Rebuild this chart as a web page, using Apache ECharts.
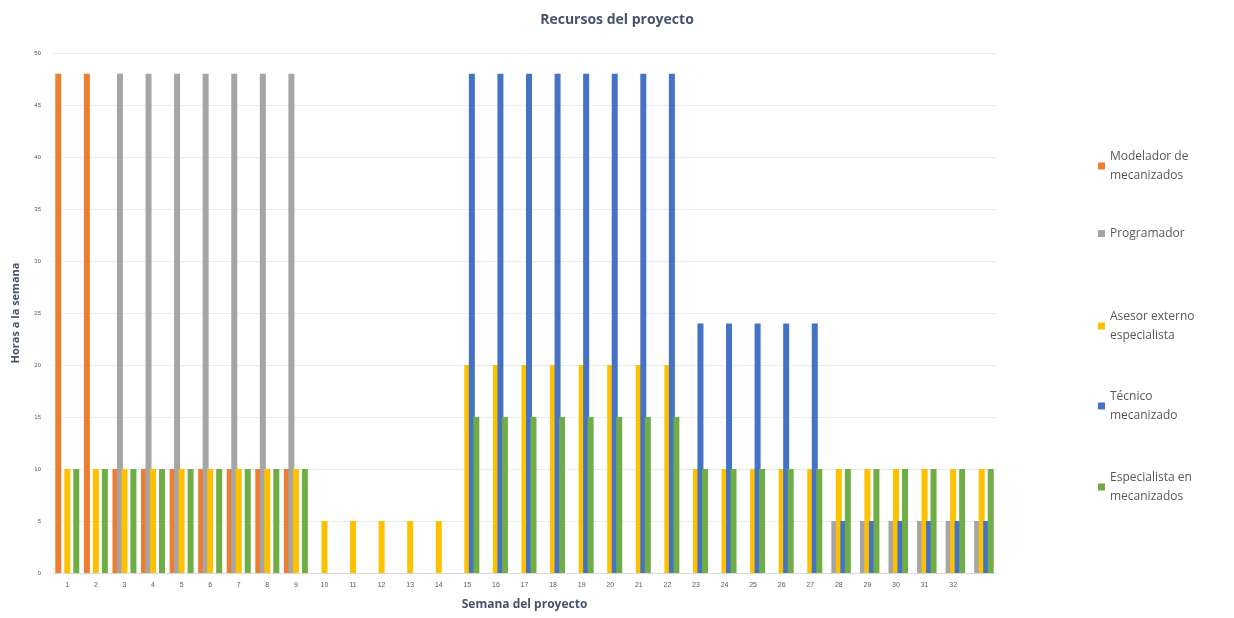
<!DOCTYPE html>
<html><head><meta charset="utf-8">
<script src="https://cdn.jsdelivr.net/npm/echarts@6/dist/echarts.min.js"></script>
<style>html,body{margin:0;padding:0;background:#fff}#c{width:1234px;height:618px}</style>
</head><body><div id="c"></div>
<script>
const weeks = ['1','2','3','4','5','6','7','8','9','10','11','12','13','14','15','16','17','18','19','20','21','22','23','24','25','26','27','28','29','30','31','32',''];
const modelador =    [48,48,10,10,10,10,10,10,10, 0, 0, 0, 0, 0, 0, 0, 0, 0, 0, 0, 0, 0, 0, 0, 0, 0, 0, 0, 0, 0, 0, 0, 0];
const programador =  [ 0, 0,48,48,48,48,48,48,48, 0, 0, 0, 0, 0, 0, 0, 0, 0, 0, 0, 0, 0, 0, 0, 0, 0, 0, 5, 5, 5, 5, 5, 5];
const asesor =       [10,10,10,10,10,10,10,10,10, 5, 5, 5, 5, 5,20,20,20,20,20,20,20,20,10,10,10,10,10,10,10,10,10,10,10];
const tecnico =      [ 0, 0, 0, 0, 0, 0, 0, 0, 0, 0, 0, 0, 0, 0,48,48,48,48,48,48,48,48,24,24,24,24,24, 5, 5, 5, 5, 5, 5];
const especialista = [10,10,10,10,10,10,10,10,10, 0, 0, 0, 0, 0,15,15,15,15,15,15,15,15,10,10,10,10,10,10,10,10,10,10,10];
const seriesNames = ['Modelador de mecanizados','Programador','Asesor externo especialista','Técnico mecanizado','Especialista en mecanizados'];
const legendLabels = ['Modelador de\nmecanizados','Programador','Asesor externo\nespecialista','Técnico\nmecanizado','Especialista en\nmecanizados'];
const colors = ['#ED7D31','#A5A5A5','#FFC000','#4472C4','#70AD47'];
const values = [modelador, programador, asesor, tecnico, especialista];
const legendTops = [142, 219, 302, 382, 463];

const chart = echarts.init(document.getElementById('c'));
chart.setOption({
  animation: false,
  color: colors,
  title: {text: 'Recursos del proyecto', left: 'center', top: 8,
    textStyle: {fontFamily: 'Open Sans', fontSize: 14, fontWeight: 'bold', color: '#44546A'}},
  legend: seriesNames.map((n, i) => ({
    data: [n], orient: 'vertical', left: 1093, top: legendTops[i],
    itemWidth: 7, itemHeight: 7, icon: 'rect', itemGap: 4,
    formatter: () => legendLabels[i],
    textStyle: {fontFamily: 'Open Sans', fontSize: 12, color: '#595959', lineHeight: 19}
  })),
  grid: {left: 53, right: 238, top: 53, bottom: 45},
  xAxis: {
    type: 'category', data: weeks,
    name: 'Semana del proyecto', nameLocation: 'middle', nameGap: 26,
    nameTextStyle: {fontFamily: 'Open Sans', fontSize: 12, fontWeight: 'bold', color: '#44546A'},
    axisLine: {lineStyle: {color: '#D9D9D9'}}, axisTick: {show: false},
    axisLabel: {fontSize: 7, color: '#595959', margin: 9, interval: 0}
  },
  yAxis: {
    type: 'value', min: 0, max: 50, interval: 5,
    name: 'Horas a la semana', nameLocation: 'middle', nameGap: 32,
    nameTextStyle: {fontFamily: 'Open Sans', fontSize: 11, fontWeight: 'bold', color: '#44546A'},
    axisLine: {show: false}, axisTick: {show: false},
    axisLabel: {fontSize: 6, color: '#595959', margin: 12},
    splitLine: {lineStyle: {color: '#EBEBEB'}}
  },
  series: seriesNames.map((n, i) => ({
    name: n, type: 'bar', data: values[i], barWidth: 6, barGap: '-25%',
    itemStyle: {color: colors[i]}
  }))
});
</script></body></html>
